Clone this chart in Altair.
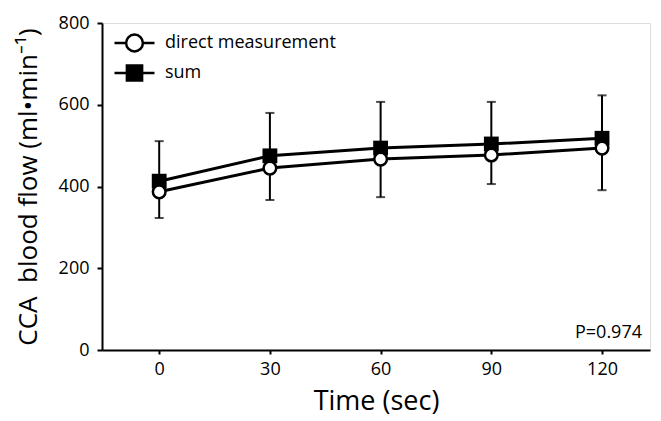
import altair as alt
import pandas as pd

time = [0, 30, 60, 90, 120]
direct = [387, 445, 467, 477, 494]
summ = [413, 475, 494, 504, 518]
sum_upper = [511, 580, 607, 607, 623]
direct_lower = [323, 367, 374, 406, 391]
series = ["direct measurement", "sum"]

rows = []
for i, t in enumerate(time):
    rows.append({"t": t, "series": "sum", "v": summ[i], "end": sum_upper[i]})
    rows.append({"t": t, "series": "direct measurement", "v": direct[i], "end": direct_lower[i]})
df = pd.DataFrame(rows)

FONT = "Open Sans"
xs = alt.Scale(domain=[-15.5, 133], nice=False, zero=False)
ys = alt.Scale(domain=[0, 800], nice=False)

X = alt.X("t:Q", scale=xs, title="Time (sec)",
          axis=alt.Axis(values=time, grid=False, tickSize=4, tickWidth=2,
                        domainWidth=2, domainColor="black", tickColor="black",
                        labelFontSize=18, labelPadding=6, labelColor="black",
                        titleFontSize=27, titleFontWeight="normal", titleColor="black",
                        titlePadding=10, labelFont=FONT, titleFont=FONT))
Y = alt.Y("v:Q", scale=ys, title="CCA\u00a0 blood flow (ml\u2022min\u207b\u00b9)",
          axis=alt.Axis(values=[0, 200, 400, 600, 800], grid=False, tickSize=5, tickWidth=2,
                        domainWidth=2, domainColor="black", tickColor="black",
                        labelFontSize=18, labelPadding=8, labelColor="black",
                        titleFontSize=26, titleFontWeight="normal", titleColor="black",
                        titlePadding=17, labelFont=FONT, titleFont=FONT))

base = alt.Chart(df)

lines = base.mark_line(color="black", strokeWidth=3).encode(
    x=X, y=Y, detail="series:N")

rules = base.mark_rule(color="black", strokeWidth=2).encode(
    x="t:Q", y="v:Q", y2="end:Q")

caps = base.mark_tick(color="black", orient="horizontal", size=9, thickness=2).encode(
    x="t:Q", y="end:Q")

sq = base.transform_filter(alt.datum.series == "sum").mark_point(
    shape="square", filled=True, color="black", opacity=1, size=220).encode(x="t:Q", y="v:Q")
circ = base.transform_filter(alt.datum.series == "direct measurement").mark_point(
    shape="circle", filled=True, fill="white", stroke="black", strokeWidth=2.5, opacity=1, size=160
).encode(x="t:Q", y="v:Q")

path_circle = "M-1,0H-0.42M0.42,0H1M0.42,0A0.42,0.42,0,1,1,-0.42,0A0.42,0.42,0,1,1,0.42,0Z"
path_square = "M-1,0H1M-0.38,-0.38H0.38V0.38H-0.38Z"

legend = alt.Legend(
    title=None, orient="none", legendX=11, legendY=5, padding=0,
    symbolSize=1600, clipHeight=30, rowPadding=0, labelOffset=9, labelLimit=400,
    labelFontSize=18, labelFont=FONT, labelColor="black",
    symbolStrokeWidth=2.5, symbolStrokeColor="black", symbolOpacity=1)

leg = base.transform_filter("false").mark_point(
    filled=False, strokeWidth=2.5, opacity=1).encode(
    x="t:Q", y="v:Q",
    shape=alt.Shape("series:N", scale=alt.Scale(domain=series, range=[path_circle, path_square]), legend=legend),
    fill=alt.Fill("series:N", scale=alt.Scale(domain=series, range=["white", "black"]), legend=legend),
    stroke=alt.Stroke("series:N", scale=alt.Scale(domain=series, range=["black", "black"]), legend=legend))

ptext = alt.Chart(pd.DataFrame({"label": ["P=0.974"]})).mark_text(
    align="right", baseline="alphabetic", fontSize=18, font=FONT, color="black").encode(
    x=alt.value(540), y=alt.value(315), text="label:N")

chart = alt.layer(lines, rules, caps, sq, circ, leg, ptext).properties(
    width=548, height=327,
    autosize=alt.AutoSizeParams(type="none"),
    padding={"left": 94, "top": 15, "right": 3, "bottom": 70},
).configure_view(stroke=None).configure(background="white")

chart.save("out.html", embed_options={"renderer": "svg", "actions": False})
